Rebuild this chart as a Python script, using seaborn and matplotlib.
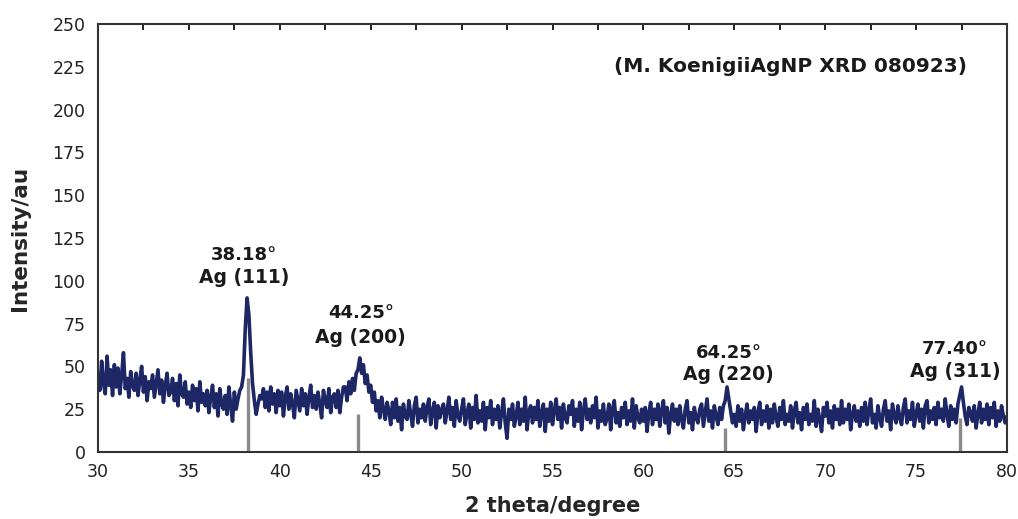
import numpy as np
import pandas as pd
import matplotlib
matplotlib.use("Agg")
import matplotlib.pyplot as plt
import seaborn as sns

# ---- data (0.1 degree steps from 30.0 to 80.0) ----
two_theta_start = 30.0
two_theta_step = 0.1
intensity_rows = [
    [45, 36, 53, 40, 34, 56, 39, 48, 33, 51],   # 30
    [38, 49, 34, 45, 58, 37, 43, 32, 47, 39],   # 31
    [36, 46, 33, 42, 50, 35, 44, 30, 41, 37],   # 32
    [45, 32, 40, 48, 34, 42, 29, 39, 46, 33],   # 33
    [35, 43, 30, 40, 27, 45, 34, 32, 41, 28],   # 34
    [35, 26, 39, 30, 37, 24, 41, 29, 34, 27],   # 35
    [36, 23, 32, 39, 26, 34, 21, 37, 28, 25],   # 36
    [33, 22, 38, 27, 18, 35, 25, 31, 36, 38],   # 37
    [45, 72, 90, 80, 58, 40, 30, 22, 28, 33],   # 38
    [31, 37, 26, 35, 24, 38, 28, 34, 23, 36],   # 39
    [27, 35, 21, 32, 38, 25, 34, 28, 20, 36],   # 40
    [30, 24, 37, 27, 34, 22, 32, 39, 26, 33],   # 41
    [25, 35, 28, 20, 36, 30, 26, 37, 23, 32],   # 42
    [34, 26, 36, 23, 32, 38, 38, 30, 41, 34],   # 43
    [43, 36, 46, 48, 55, 46, 51, 40, 45, 35],   # 44
    [39, 29, 35, 24, 30, 20, 32, 25, 19, 29],   # 45
    [24, 16, 29, 20, 31, 18, 26, 13, 28, 21],   # 46
    [19, 30, 22, 15, 27, 32, 17, 25, 20, 28],   # 47
    [18, 26, 31, 16, 24, 29, 14, 27, 20, 25],   # 48
    [28, 17, 24, 32, 19, 26, 15, 30, 21, 18],   # 49
    [25, 31, 16, 23, 28, 14, 26, 19, 33, 17],   # 50
    [24, 18, 29, 13, 26, 20, 30, 16, 25, 19],   # 51
    [27, 14, 23, 31, 17, 8, 25, 19, 28, 15],    # 52
    [21, 29, 16, 25, 18, 32, 13, 24, 27, 17],   # 53
    [26, 19, 30, 15, 23, 28, 12, 25, 18, 29],   # 54
    [16, 24, 31, 19, 26, 14, 28, 20, 17, 27],   # 55
    [22, 30, 15, 25, 18, 29, 13, 24, 31, 19],   # 56
    [25, 17, 27, 20, 32, 14, 24, 18, 28, 16],   # 57
    [20, 28, 13, 25, 30, 17, 23, 15, 26, 20],   # 58
    [29, 16, 24, 18, 31, 14, 27, 20, 17, 25],   # 59
    [18, 26, 12, 23, 29, 16, 25, 19, 28, 15],   # 60
    [24, 30, 17, 26, 11, 22, 28, 18, 25, 16],   # 61
    [27, 19, 14, 25, 30, 17, 23, 13, 26, 20],   # 62
    [17, 25, 28, 15, 23, 31, 18, 24, 14, 27],   # 63
    [21, 16, 26, 19, 27, 30, 38, 31, 24, 17],   # 64
    [22, 15, 27, 18, 25, 13, 21, 28, 17, 24],   # 65
    [19, 26, 12, 23, 29, 16, 24, 18, 27, 14],   # 66
    [25, 17, 28, 20, 15, 26, 19, 30, 16, 22],   # 67
    [18, 27, 14, 24, 29, 17, 23, 13, 26, 19],   # 68
    [28, 16, 22, 18, 30, 15, 25, 19, 12, 26],   # 69
    [21, 29, 17, 24, 14, 27, 19, 25, 16, 30],   # 70
    [17, 25, 19, 28, 13, 22, 27, 18, 24, 15],   # 71
    [26, 18, 29, 16, 24, 31, 17, 22, 14, 27],   # 72
    [20, 15, 25, 30, 18, 24, 13, 28, 21, 17],   # 73
    [27, 20, 16, 26, 31, 17, 24, 19, 29, 15],   # 74
    [22, 28, 18, 25, 14, 27, 30, 17, 24, 19],   # 75
    [26, 16, 29, 20, 25, 18, 31, 22, 15, 27],   # 76
    [19, 25, 17, 28, 33, 38, 29, 21, 16, 26],   # 77
    [23, 18, 27, 14, 22, 29, 17, 25, 19, 28],   # 78
    [16, 26, 20, 29, 15, 24, 18, 27, 21, 17],   # 79
    [21],                                       # 80
]

# reference stick pattern (Ag)
stick_positions = [38.25, 44.3, 64.5, 77.4]
stick_heights = [43, 22, 14, 20]

# peak annotations
peak_angles = ["38.18°", "44.25°", "64.25°", "77.40°"]
peak_planes = ["Ag (111)", "Ag (200)", "Ag (220)", "Ag (311)"]
label_x = [38.05, 44.45, 64.7, 77.15]
label_y_angle = [115, 81, 58, 60]
label_y_plane = [102, 67, 45.5, 47]

title_text = "(M. KoenigiiAgNP XRD 080923)"
x_label = "2 theta/degree"
y_label = "Intensity/au"
x_ticks = [30, 35, 40, 45, 50, 55, 60, 65, 70, 75, 80]
y_ticks = [0, 25, 50, 75, 100, 125, 150, 175, 200, 225, 250]

# ---- build table ----
intensity = [v for row in intensity_rows for v in row]
two_theta = [round(two_theta_start + i * two_theta_step, 1) for i in range(len(intensity))]
df = pd.DataFrame({"two_theta": two_theta, "intensity": intensity})

sns.set_theme(style="white")
plt.rcParams["font.family"] = ["DejaVu Sans"]

fig = plt.figure(figsize=(10.18, 5.19), dpi=100)
ax = fig.add_axes([98 / 1018, 1 - 452 / 519, (1007 - 98) / 1018, (452 - 24) / 519])

ax.vlines(stick_positions, 0, stick_heights, color="#8a8a8a", lw=2.4, zorder=1)
sns.lineplot(data=df, x="two_theta", y="intensity", ax=ax, color="#1d2766",
             lw=2.6, zorder=2)

ax.set_xlim(30, 80)
ax.set_ylim(0, 250)
ax.set_xticks(x_ticks)
ax.set_yticks(y_ticks)
ax.set_xticks(np.arange(30, 80.01, 2.5), minor=True)

ax.tick_params(axis="x", which="both", direction="out", length=4, width=1.4,
               color="#222222", top=True, labelsize=12.5, labelcolor="#222222", pad=4)
ax.tick_params(axis="y", which="major", direction="out", length=5, width=1.4,
               color="#222222", labelsize=12.5, labelcolor="#222222", pad=4)
for t in ax.xaxis.get_ticklines(minor=False)[1::2] + ax.xaxis.get_ticklines(minor=True)[1::2]:
    t.set_marker(3)  # top ticks point inward
for s in ax.spines.values():
    s.set_color("#333333")
    s.set_linewidth(1.5)

ax.set_xlabel(x_label, fontsize=15, fontweight="bold", labelpad=11)
ax.set_ylabel(y_label, fontsize=15.5, fontweight="bold", labelpad=16)

for xa, ya, yp, ang, pl in zip(label_x, label_y_angle, label_y_plane, peak_angles, peak_planes):
    ax.text(xa, ya, ang, ha="center", va="center", fontsize=13, fontweight="bold", color="#1a1a1a")
    ax.text(xa, yp, pl, ha="center", va="center", fontsize=13.5, fontweight="bold", color="#1a1a1a")

ax.text(0.762, 0.90, title_text, transform=ax.transAxes, ha="center", va="center",
        fontsize=14.5, fontweight="bold", color="#1a1a1a")

fig.savefig("out.png", dpi=100)
